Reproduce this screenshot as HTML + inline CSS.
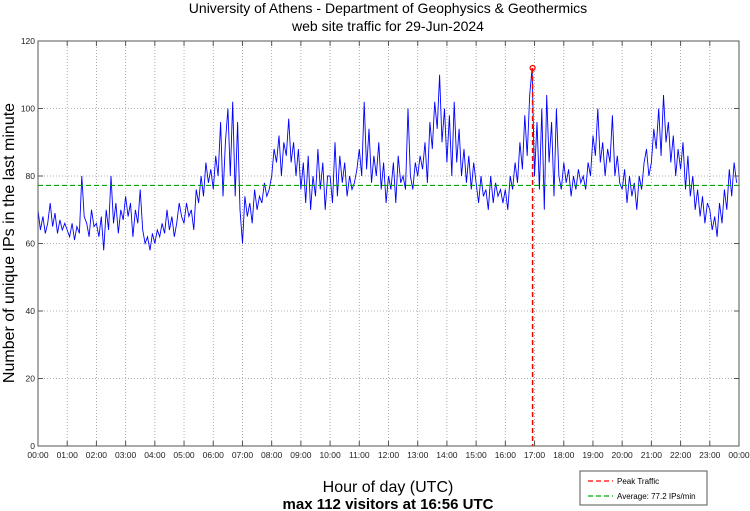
<!DOCTYPE html>
<html><head><meta charset="utf-8"><style>
body{margin:0;background:#fff;}
svg{display:block;font-family:"Liberation Sans",sans-serif;}
</style></head><body>
<svg id="chart" width="750" height="511" viewBox="0 0 750 511">
<text x="388" y="13" font-size="14" text-anchor="middle">University of Athens - Department of Geophysics &amp; Geothermics</text>
<text x="388" y="31" font-size="14" text-anchor="middle">web site traffic for 29-Jun-2024</text>
<text transform="translate(14,243) rotate(-90)" font-size="16" text-anchor="middle">Number of unique IPs in the last minute</text>
<text x="388" y="492" font-size="16" text-anchor="middle">Hour of day (UTC)</text>
<text x="388" y="509" font-size="15" font-weight="bold" text-anchor="middle">max 112 visitors at 16:56 UTC</text>
<g id="grid"></g>
<g id="series"></g>
<g id="axes"></g>
<g>
<rect x="580" y="471" width="127" height="34" fill="#fff" stroke="#555" stroke-width="1"/>
<line x1="588" y1="481" x2="613" y2="481" stroke="#f00" stroke-width="1.2" stroke-dasharray="5,3"/>
<text x="617" y="484" font-size="8">Peak Traffic</text>
<line x1="588" y1="496" x2="613" y2="496" stroke="#0a0" stroke-width="1.2" stroke-dasharray="5,3"/>
<text x="617" y="499" font-size="8">Average: 77.2 IPs/min</text>
</g>
</svg>
<script>
const hourLabels=["00:00","01:00","02:00","03:00","04:00","05:00","06:00","07:00","08:00","09:00","10:00","11:00","12:00","13:00","14:00","15:00","16:00","17:00","18:00","19:00","20:00","21:00","22:00","23:00","00:00"];
const yTicks=[0,20,40,60,80,100,120];
const averageValue=77.2;
const peakValue=112;
const peakMinute=16*60+56;
const stepMinutes=5;
const visitors=[
70,64,68,63,66,72,65,69,63,67,64,66,
64,62,66,61,65,63,80,68,66,62,70,65,
66,62,68,58,70,64,80,66,72,63,70,67,
74,68,72,62,70,66,76,64,60,62,58,63,
60,64,62,66,63,70,64,68,62,66,72,68,
66,72,68,70,64,76,72,80,74,84,78,82,
76,86,80,96,74,90,100,80,102,74,96,70,
60,74,68,72,66,76,70,74,72,78,74,76,
80,88,84,92,80,90,86,97,84,90,80,88,
76,84,72,86,70,80,74,88,76,84,70,80,
80,72,90,74,86,78,84,74,80,76,78,82,
88,80,102,82,94,78,86,80,90,76,84,72,
80,76,84,72,86,78,80,76,100,80,76,84,
80,86,82,90,78,96,88,102,94,110,90,100,
84,98,80,102,84,94,80,88,78,86,76,84,
78,72,80,74,76,70,80,72,78,74,76,72,
76,70,80,76,84,78,90,82,98,86,104,112,
80,96,76,100,70,104,84,96,74,100,80,76,
84,78,82,74,80,76,82,78,80,76,84,80,
92,86,100,84,90,80,88,84,98,80,86,78,
76,82,72,80,74,78,70,80,76,84,88,80,
84,94,88,100,86,104,90,96,84,92,80,88,
82,90,76,86,74,80,70,76,68,74,66,72,
70,64,68,62,72,66,76,70,82,74,84,78];

const NS="http://www.w3.org/2000/svg";
const L=38,R=739,T=41,B=446;
const xs=m=>L+(R-L)*m/1440;
const ys=v=>B-(B-T)*v/120;
function mk(tag,attrs,parent){const e=document.createElementNS(NS,tag);for(const k in attrs)e.setAttribute(k,attrs[k]);parent.appendChild(e);return e;}
const grid=document.getElementById('grid'),axes=document.getElementById('axes'),series=document.getElementById('series');
hourLabels.forEach((lab,i)=>{
  const x=xs(i*60);
  if(i>0&&i<24){const g=mk('line',{x1:x,y1:T,x2:x,y2:B,stroke:'#999','stroke-width':0.8,'stroke-dasharray':'1,2'},grid);
  
  }
  mk('line',{x1:x,y1:B,x2:x,y2:B-5,stroke:'#555'},axes);
  mk('line',{x1:x,y1:T,x2:x,y2:T+5,stroke:'#555'},axes);
  const t=mk('text',{x:x,y:B+12,'font-size':8.5,'text-anchor':'middle',fill:'#222'},axes);
  
  
  t.textContent=lab;
});
yTicks.forEach(v=>{
  const y=ys(v);
  if(v>0&&v<120){const g=mk('line',{x1:L,y1:y,x2:R,y2:y,stroke:'#999','stroke-width':0.8,'stroke-dasharray':'1,2'},grid);
  
  }
  mk('line',{x1:L,y1:y,x2:L+5,y2:y,stroke:'#555'},axes);
  mk('line',{x1:R,y1:y,x2:R-5,y2:y,stroke:'#555'},axes);
  const t=mk('text',{x:L-3,y:y+3,'font-size':8.5,'text-anchor':'end',fill:'#222'},axes);
  
  
  t.textContent=v;
});
const frame=mk('rect',{x:L,y:T,width:R-L,height:B-T,fill:'none',stroke:'#555','stroke-width':1},axes);


const pts=visitors.map((v,i)=>xs(i*stepMinutes).toFixed(1)+','+ys(v).toFixed(1)).join(' ');
const line=mk('polyline',{points:pts,fill:'none',stroke:'#0000ff','stroke-width':0.9},series);


const avg=mk('line',{x1:L,y1:ys(averageValue),x2:R,y2:ys(averageValue),stroke:'#0a0','stroke-width':1.2,'stroke-dasharray':'5,3'},series);


const px=xs(peakMinute);
const pk=mk('line',{x1:px,y1:ys(peakValue),x2:px,y2:B,stroke:'#f00','stroke-width':1.5,'stroke-dasharray':'5,3'},series);


const pm=mk('circle',{cx:px,cy:ys(peakValue),r:2.5,fill:'none',stroke:'#f00','stroke-width':1.2},series);


</script>
</body></html>
